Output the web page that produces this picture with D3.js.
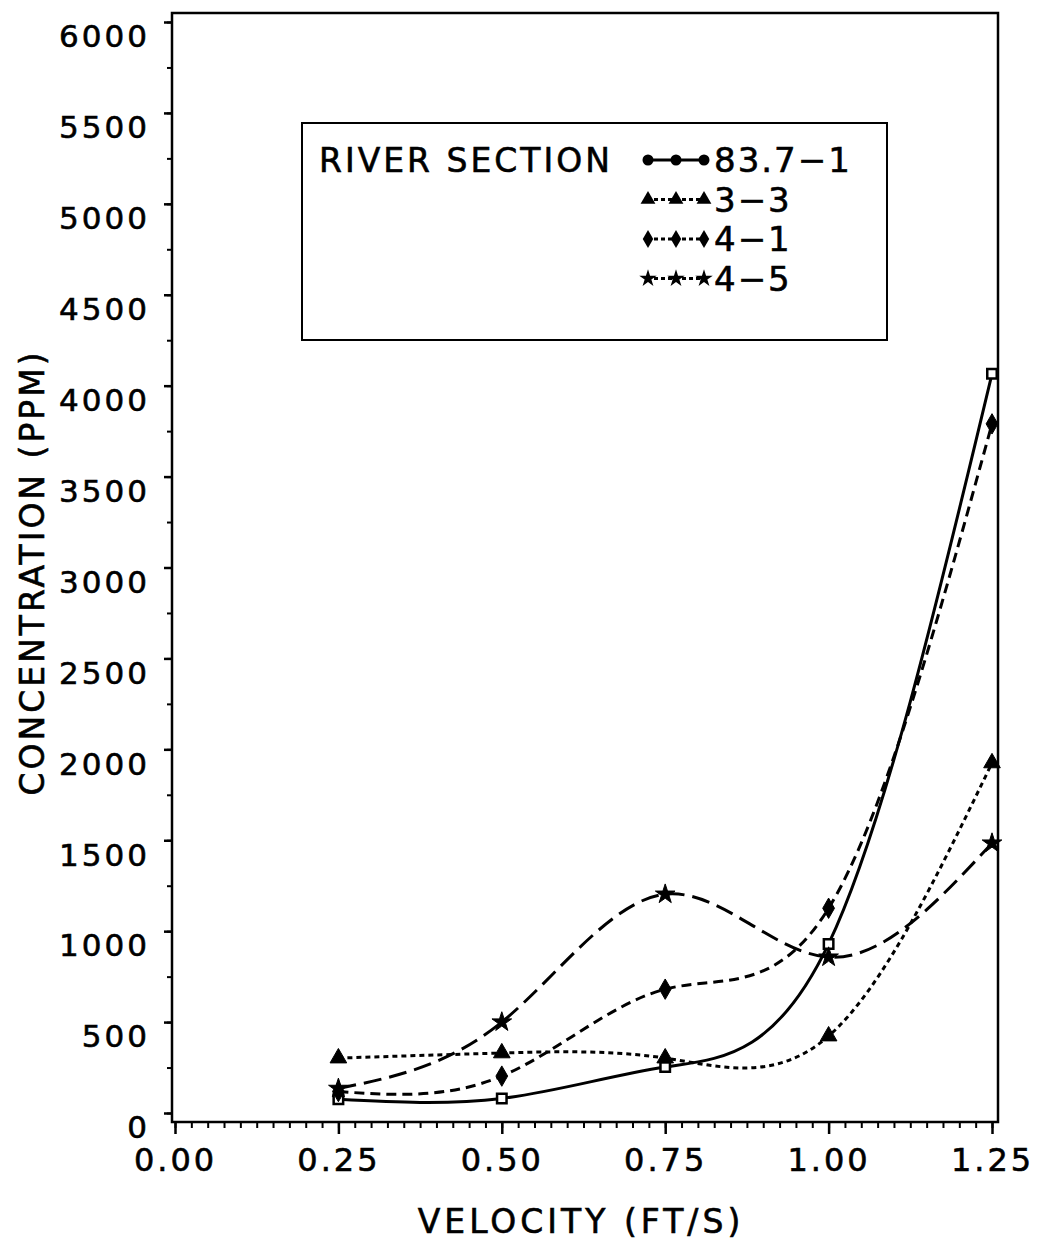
<!DOCTYPE html>
<html>
<head>
<meta charset="utf-8">
<script src="https://cdn.jsdelivr.net/npm/d3@7"></script>
<style>
  html, body { margin: 0; padding: 0; background: #fff; }
  text { font-family: "DejaVu Sans", sans-serif; fill: #000; stroke: #000; stroke-width: 0.6px; }
</style>
</head>
<body>
<div id="app"></div>
<script>
// data
const velocity = [0.25, 0.5, 0.75, 1.0, 1.25];
const conc_83_7_1 = [75, 80, 253, 930, 4065];
const conc_3_3 = [302, 330, 302, 423, 1925];
const conc_4_1 = [118, 203, 681, 1126, 3790];
const conc_4_5 = [135, 500, 1203, 857, 1484];
const seriesNames = ["83.7−1", "3−3", "4−1", "4−5"];
const xTickValues = [0, 0.25, 0.5, 0.75, 1.0, 1.25];
const yTickValues = [0, 500, 1000, 1500, 2000, 2500, 3000, 3500, 4000, 4500, 5000, 5500, 6000];

const series = [
  { name: seriesNames[0], values: conc_83_7_1, dash: null, symbol: "square" },
  { name: seriesNames[1], values: conc_3_3, dash: "5,4", symbol: "triangle" },
  { name: seriesNames[2], values: conc_4_1, dash: "10,6", symbol: "diamond" },
  { name: seriesNames[3], values: conc_4_5, dash: "18,8", symbol: "star" },
];

const width = 1037;
const height = 1259;
const frame = { left: 172, right: 998, top: 13, bottom: 1122 };

const svg = d3
  .select("#app")
  .append("svg")
  .attr("width", width)
  .attr("height", height);

// scales
const x = d3.scaleLinear().domain([0, 1.25]).range([175, 992]);
const y = d3.scaleLinear().domain([0, 6000]).range([1113, 22]);

// frame
svg
  .append("rect")
  .attr("x", frame.left)
  .attr("y", frame.top)
  .attr("width", frame.right - frame.left)
  .attr("height", frame.bottom - frame.top)
  .attr("fill", "none")
  .attr("stroke", "#000")
  .attr("stroke-width", 2.5);

// x axis (minor ticks, then major ticks with labels)
const xMinor = d3.range(0, 1.2501, 0.025);
svg
  .append("g")
  .attr("transform", `translate(0,${frame.bottom})`)
  .call(d3.axisBottom(x).tickValues(xMinor).tickSize(6).tickFormat(""))
  .call((g) => g.select(".domain").remove())
  .call((g) => g.selectAll("line").attr("stroke-width", 2));

const xAxis = svg
  .append("g")
  .attr("transform", `translate(0,${frame.bottom})`)
  .call(
    d3
      .axisBottom(x)
      .tickValues(xTickValues)
      .tickSize(12)
      .tickPadding(14)
      .tickFormat(d3.format(".2f"))
  );
xAxis.select(".domain").remove();
xAxis.selectAll("line").attr("stroke-width", 2.5);
xAxis
  .selectAll("text")
  .attr("font-size", 32)
  .attr("letter-spacing", 3)
  .attr("font-family", "DejaVu Sans");

// y axis
const yMinor = d3.range(0, 6001, 250);
svg
  .append("g")
  .attr("transform", `translate(${frame.left},0)`)
  .call(d3.axisLeft(y).tickValues(yMinor).tickSize(5).tickFormat(""))
  .call((g) => g.select(".domain").remove())
  .call((g) => g.selectAll("line").attr("stroke-width", 2));

const yAxis = svg
  .append("g")
  .attr("transform", `translate(${frame.left},0)`)
  .call(
    d3.axisLeft(y).tickValues(yTickValues).tickSize(8).tickPadding(14).tickFormat(d3.format("d"))
  );
yAxis.select(".domain").remove();
yAxis.selectAll("line").attr("stroke-width", 2.5);
yAxis
  .selectAll("text")
  .attr("font-size", 31)
  .attr("letter-spacing", 3)
  .attr("dy", "0.8em")
  .attr("font-family", "DejaVu Sans");

// axis titles
svg
  .append("text")
  .attr("x", (frame.left + frame.right) / 2 - 4)
  .attr("y", 1233)
  .attr("text-anchor", "middle")
  .attr("font-size", 33)
  .attr("letter-spacing", 4)
  .text("VELOCITY (FT/S)");

svg
  .append("text")
  .attr("transform", `translate(44,${(frame.top + frame.bottom) / 2 + 5}) rotate(-90)`)
  .attr("text-anchor", "middle")
  .attr("font-size", 33)
  .attr("letter-spacing", 3)
  .text("CONCENTRATION (PPM)");

// marker shapes
function symbolPath(type, size) {
  const s = {
    circle: d3.symbolCircle,
    square: d3.symbolSquare,
    triangle: d3.symbolTriangle,
    diamond: d3.symbolDiamond,
    star: d3.symbolStar,
  }[type];
  return d3.symbol().type(s).size(size)();
}

// lines, natural spline through the points
const line = d3
  .line()
  .x((d) => x(d[0]))
  .y((d) => y(d[1]))
  .curve(d3.curveNatural);

const plot = svg.append("g");
series.forEach((s) => {
  const pts = velocity.map((v, i) => [v, s.values[i]]);
  plot
    .append("path")
    .datum(pts)
    .attr("d", line)
    .attr("fill", "none")
    .attr("stroke", "#000")
    .attr("stroke-width", 3)
    .attr("stroke-dasharray", s.dash);

  plot
    .selectAll(null)
    .data(pts)
    .enter()
    .append("path")
    .attr("transform", (d) => `translate(${x(d[0])},${y(d[1])})`)
    .attr("d", symbolPath(s.symbol, s.symbol === "square" ? 90 : 120))
    .attr("fill", s.symbol === "square" ? "#fff" : "#000")
    .attr("stroke", "#000")
    .attr("stroke-width", s.symbol === "square" ? 2.5 : 1);
});

// legend
const legend = svg.append("g");
legend
  .append("rect")
  .attr("x", 302)
  .attr("y", 123)
  .attr("width", 585)
  .attr("height", 217)
  .attr("fill", "#fff")
  .attr("stroke", "#000")
  .attr("stroke-width", 2);

legend
  .append("text")
  .attr("x", 319)
  .attr("y", 172)
  .attr("font-size", 33)
  .attr("letter-spacing", 3)
  .text("RIVER SECTION");

series.forEach((s, i) => {
  const cy = 160 + i * 39.5;
  legend
    .append("line")
    .attr("x1", 647)
    .attr("x2", 705)
    .attr("y1", cy)
    .attr("y2", cy)
    .attr("stroke", "#000")
    .attr("stroke-width", 3)
    .attr("stroke-dasharray", s.dash ? "4,3" : null);
  legend
    .selectAll(null)
    .data([648, 676, 704])
    .enter()
    .append("path")
    .attr("transform", (d) => `translate(${d},${cy})`)
    .attr("d", symbolPath(s.symbol === "square" ? "circle" : s.symbol, 95))
    .attr("fill", "#000");
  legend
    .append("text")
    .attr("x", 714)
    .attr("y", cy + 12)
    .attr("font-size", 34)
    .attr("letter-spacing", 2)
    .text(s.name);
});
</script>
</body>
</html>
